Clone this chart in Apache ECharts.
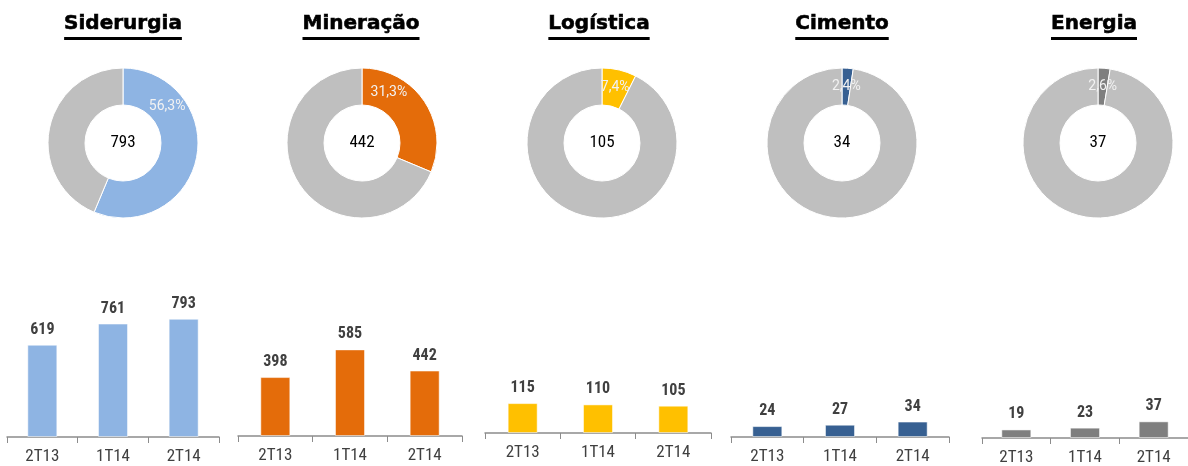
<!DOCTYPE html>
<html>
<head>
<meta charset="utf-8">
<script src="https://cdn.jsdelivr.net/npm/echarts@6/dist/echarts.min.js"></script>
<style>
  html, body { margin: 0; padding: 0; background: #fff; }
  #main { width: 1188px; height: 466px; }
</style>
</head>
<body>
<div id="main"></div>
<script>
// data
var sectors = ['Siderurgia', 'Mineração', 'Logística', 'Cimento', 'Energia'];
var quarters = ['2T13', '1T14', '2T14'];
var siderurgia = [619, 761, 793];
var mineracao = [398, 585, 442];
var logistica = [115, 110, 105];
var cimento = [24, 27, 34];
var energia = [19, 23, 37];
var shares = [56.3, 31.3, 7.4, 2.4, 2.6]; // % do total

var values = [siderurgia, mineracao, logistica, cimento, energia];
var colors = ['#8eb4e3', '#e46c0a', '#ffc000', '#376092', '#7f7f7f'];
var restColor = '#bfbfbf';
var narrow = "'Roboto Condensed', 'Liberation Sans Narrow', Roboto, sans-serif";
var titleFont = "'DejaVu Sans', Verdana, sans-serif";

// layout per panel
var pieX = [123, 362, 602, 842, 1098];
var pieY = 143;
var titleX = [123, 361, 599, 842, 1094];
var gridLeft = [7, 238, 485, 731, 982];
var gridWidth = [212, 224, 226, 218, 224];
var baseLine = [437, 436, 433, 437, 438];
var yMax = [872, 878, 500, 286, 289];
var gridH = 130;

var chart = echarts.init(document.getElementById('main'), null, { renderer: 'canvas' });

var ctx = document.createElement('canvas').getContext('2d');
ctx.font = 'bold 20px ' + titleFont;

var grids = [], xAxes = [], yAxes = [], series = [], graphics = [];

sectors.forEach(function (name, i) {
  var w = ctx.measureText(name).width;
  graphics.push({
    type: 'text', x: titleX[i], y: 34, silent: true,
    style: { text: name, align: 'center', verticalAlign: 'bottom', fill: '#000',
      font: 'bold 20px ' + titleFont, stroke: '#000', lineWidth: 0.6 }
  });
  graphics.push({
    type: 'rect', silent: true,
    shape: { x: titleX[i] - w / 2, y: 37, width: w, height: 3 },
    style: { fill: '#000' }
  });

  var share = shares[i];
  series.push({
    type: 'pie',
    center: [pieX[i], pieY],
    radius: [38, 75],
    startAngle: 90,
    clockwise: true,
    silent: true,
    animation: false,
    itemStyle: { borderColor: '#fff', borderWidth: 1 },
    labelLine: { show: false },
    data: [
      {
        value: share,
        itemStyle: { color: colors[i] },
        label: {
          show: true, position: 'inside', color: '#f2f2f2', fontSize: 14, fontFamily: 'Roboto',
          formatter: share.toFixed(1).replace('.', ',') + '%'
        }
      },
      {
        value: 100 - share,
        itemStyle: { color: restColor },
        label: {
          show: true, position: 'center', color: '#000', fontSize: 17, fontFamily: narrow,
          formatter: String(values[i][values[i].length - 1])
        }
      }
    ],
    labelLayout: function (p) {
      if (p.dataIndex !== 0) return {};
      var mid = share / 100 * 180;
      var ang = (mid > 20 ? mid / 2 : mid) * Math.PI / 180;
      return { x: pieX[i] + 57 * Math.sin(ang), y: pieY - 57 * Math.cos(ang) };
    }
  });

  grids.push({ left: gridLeft[i], width: gridWidth[i], top: baseLine[i] - gridH, height: gridH });
  xAxes.push({
    gridIndex: i, type: 'category', data: quarters,
    axisLine: { show: true, lineStyle: { color: '#8c8c8c', width: 1.5 } },
    axisTick: { show: true, inside: false, length: 6, interval: 0, lineStyle: { color: '#8c8c8c', width: 1 } },
    axisLabel: { color: '#404040', fontSize: 17, margin: 11, fontFamily: narrow }
  });
  yAxes.push({ gridIndex: i, show: false, min: 0, max: yMax[i], splitLine: { show: false } });
  series.push({
    type: 'bar', xAxisIndex: i, yAxisIndex: i,
    data: values[i], barWidth: 30, silent: true, animation: false,
    itemStyle: { color: colors[i], borderColor: 'rgba(255,255,255,0.5)', borderWidth: 1 },
    label: { show: true, position: 'top', distance: 7, fontWeight: 'bold', fontSize: 16,
      color: '#404040', fontFamily: narrow }
  });
});

chart.setOption({
  animation: false,
  grid: grids,
  xAxis: xAxes,
  yAxis: yAxes,
  series: series,
  graphic: graphics
});
</script>
</body>
</html>
